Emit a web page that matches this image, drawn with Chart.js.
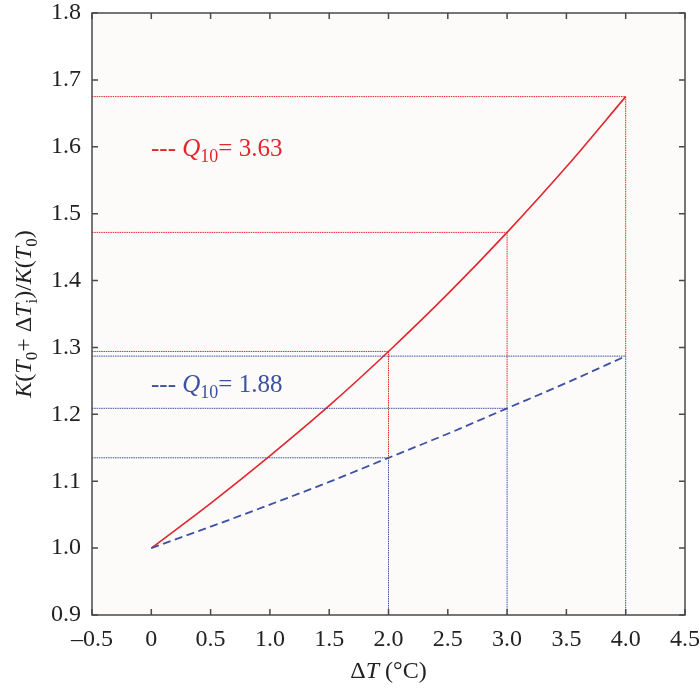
<!DOCTYPE html>
<html>
<head>
<meta charset="utf-8">
<script src="https://cdn.jsdelivr.net/npm/chart.js@4/dist/chart.umd.min.js"></script>
<style>
  html, body { margin: 0; padding: 0; background: #ffffff; }
  canvas { display: block; }
</style>
</head>
<body>
<canvas id="c" width="700" height="688"></canvas>
<script>
// ---- data ----
const dT        = [0, 0.5, 1.0, 1.5, 2.0, 2.5, 3.0, 3.5, 4.0];
const ratioQ363 = [1.000, 1.067, 1.138, 1.213, 1.294, 1.380, 1.472, 1.570, 1.675];
const ratioQ188 = [1.000, 1.032, 1.065, 1.099, 1.135, 1.171, 1.209, 1.247, 1.287];

const markT    = [2, 3, 4];
const markRed  = [1.294, 1.472, 1.675];
const markBlue = [1.135, 1.209, 1.287];

const xRange = [-0.5, 4.5];
const yRange = [0.9, 1.8];

const RED  = '#e2262c';
const BLUE = '#3d51a2';
const SERIF = '"Liberation Serif", "Times New Roman", Times, serif';

// ---- datasets ----
function seg(x1, y1, x2, y2, color) {
  return {
    data: [{x: x1, y: y1}, {x: x2, y: y2}],
    borderColor: color, borderWidth: 1, borderDash: [1.5, 0.8],
    pointRadius: 0, fill: false, tension: 0
  };
}
const refSets = [];
for (let i = 0; i < markT.length; i++) {
  refSets.push(seg(xRange[0], markRed[i], markT[i], markRed[i], RED));
  refSets.push(seg(markT[i], markRed[i], markT[i], markBlue[i], RED));
  refSets.push(seg(xRange[0], markBlue[i], markT[i], markBlue[i], BLUE));
  refSets.push(seg(markT[i], markBlue[i], markT[i], yRange[0], BLUE));
}

const curveRed = {
  data: dT.map((x, i) => ({x, y: ratioQ363[i]})),
  borderColor: RED, borderWidth: 1.6, pointRadius: 0,
  cubicInterpolationMode: 'monotone', fill: false
};
const curveBlue = {
  data: dT.map((x, i) => ({x, y: ratioQ188[i]})),
  borderColor: BLUE, borderWidth: 1.8, borderDash: [8, 4.5], pointRadius: 0,
  cubicInterpolationMode: 'monotone', fill: false
};

// ---- rich text helper ----
function drawRich(ctx, parts, x, y, size, align) {
  const subSize = Math.round(size * 0.7);
  const fontFor = p => (p.italic ? 'italic ' : '') + (p.sub ? subSize : size) + 'px ' + SERIF;
  let total = 0;
  parts.forEach(p => { ctx.font = fontFor(p); p.w = ctx.measureText(p.t).width; total += p.w; });
  let cx = align === 'center' ? x - total / 2 : x;
  ctx.textAlign = 'left';
  ctx.textBaseline = 'alphabetic';
  parts.forEach(p => {
    ctx.font = fontFor(p);
    ctx.fillText(p.t, cx, y + (p.sub ? size * 0.25 : 0));
    cx += p.w;
  });
}

const decor = {
  id: 'decor',
  beforeDraw(chart) {
    const {ctx, chartArea: a} = chart;
    ctx.save();
    ctx.fillStyle = '#fcfbfa';
    ctx.fillRect(a.left, a.top, a.right - a.left, a.bottom - a.top);
    ctx.restore();
  },
  afterDraw(chart) {
    const {ctx, chartArea: a, scales} = chart;
    ctx.save();
    ctx.strokeStyle = '#4a4a4a';
    ctx.lineWidth = 1.5;
    ctx.strokeRect(a.left, a.top, a.right - a.left, a.bottom - a.top);
    const tl = 6;
    ctx.beginPath();
    scales.x.ticks.forEach(t => {
      const px = scales.x.getPixelForValue(t.value);
      ctx.moveTo(px, a.bottom); ctx.lineTo(px, a.bottom - tl);
      ctx.moveTo(px, a.top); ctx.lineTo(px, a.top + tl);
    });
    scales.y.ticks.forEach(t => {
      const py = scales.y.getPixelForValue(t.value);
      ctx.moveTo(a.left, py); ctx.lineTo(a.left + tl, py);
      ctx.moveTo(a.right, py); ctx.lineTo(a.right - tl, py);
    });
    ctx.stroke();

    ctx.fillStyle = RED;
    drawRich(ctx, [{t: '--- '}, {t: 'Q', italic: true}, {t: '10', sub: true}, {t: '= 3.63'}], 151, 156, 25, 'left');
    ctx.fillStyle = BLUE;
    drawRich(ctx, [{t: '--- '}, {t: 'Q', italic: true}, {t: '10', sub: true}, {t: '= 1.88'}], 151, 392, 25, 'left');

    ctx.fillStyle = '#222';
    drawRich(ctx, [{t: 'Δ'}, {t: 'T', italic: true}, {t: ' (°C)'}], (a.left + a.right) / 2, 678, 24, 'center');

    ctx.translate(31, (a.top + a.bottom) / 2);
    ctx.rotate(-Math.PI / 2);
    drawRich(ctx, [
      {t: 'K', italic: true}, {t: '('}, {t: 'T', italic: true}, {t: '0', sub: true},
      {t: '+ Δ'}, {t: 'T', italic: true}, {t: 'i', sub: true}, {t: ')/'},
      {t: 'K', italic: true}, {t: '('}, {t: 'T', italic: true}, {t: '0', sub: true}, {t: ')'}
    ], 0, 0, 24, 'center');
    ctx.restore();
  }
};

new Chart(document.getElementById('c'), {
  type: 'line',
  data: { datasets: [...refSets, curveBlue, curveRed] },
  options: {
    responsive: false,
    animation: false,
    layout: { padding: { top: 13, right: 15, left: 0, bottom: 0 } },
    plugins: { legend: { display: false }, tooltip: { enabled: false } },
    scales: {
      x: {
        type: 'linear', min: xRange[0], max: xRange[1],
        grid: { display: false, drawTicks: false },
        border: { display: false },
        ticks: {
          stepSize: 0.5, padding: 10, color: '#222',
          font: { family: SERIF, size: 24 },
          maxRotation: 0, autoSkip: false,
          callback: v => v === 0 ? '0' : (v < 0 ? '\u2013' + Math.abs(v).toFixed(1) : v.toFixed(1))
        },
        afterFit(s) { s.height = 73; s.paddingLeft = 0; s.paddingRight = 0; }
      },
      y: {
        type: 'linear', min: yRange[0], max: yRange[1],
        grid: { display: false, drawTicks: false },
        border: { display: false },
        ticks: {
          stepSize: 0.1, padding: 11, color: '#222',
          font: { family: SERIF, size: 24 },
          autoSkip: false,
          callback: v => v.toFixed(1)
        },
        afterFit(s) { s.width = 92; s.paddingTop = 0; s.paddingBottom = 0; }
      }
    }
  },
  plugins: [decor]
});
</script>
</body>
</html>
